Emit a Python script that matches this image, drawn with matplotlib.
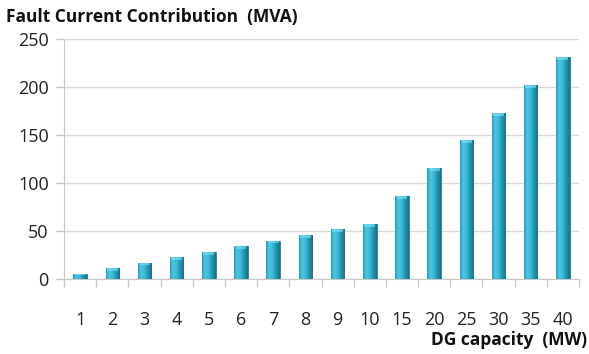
import matplotlib
matplotlib.use("Agg")
import matplotlib.pyplot as plt
import numpy as np
from matplotlib.colors import LinearSegmentedColormap

categories = ["1", "2", "3", "4", "5", "6", "7", "8", "9", "10", "15", "20", "25", "30", "35", "40"]
values = [5.7, 11.4, 17.1, 22.8, 28.5, 34.3, 40.0, 45.8, 51.6, 57.4, 86.5, 115.5, 144.5, 173.3, 202.2, 231.0]
y_ticks = [0, 50, 100, 150, 200, 250]
title = "Fault Current Contribution  (MVA)"
xlabel = "DG capacity  (MW)"

plt.rcParams['font.family'] = ['Open Sans', 'DejaVu Sans']

fig = plt.figure(figsize=(5.89, 3.54), dpi=100)
ax = fig.add_axes([0.1087, 0.2119, 0.983 - 0.1087, 0.8898 - 0.2119])

x = np.arange(len(categories))
bars = ax.bar(x, values, width=0.42, color="#2aa3c2", edgecolor="#1a7f99", linewidth=0.6, zorder=3)

# cylinder-like shading
cmap = LinearSegmentedColormap.from_list("cyl", ["#2a9fbd", "#4cc8e6", "#3bb6d6", "#2391ad", "#1a7088"])
grad = np.linspace(0, 1, 64).reshape(1, -1)
for b in bars:
    x0, w, h = b.get_x(), b.get_width(), b.get_height()
    im = ax.imshow(grad, extent=(x0, x0 + w, 0, h), aspect="auto", cmap=cmap, zorder=3.5, origin="lower")
    im.set_clip_path(b)
    cap = min(3.0, h * 0.3)
    ax.fill_between([x0 + w * 0.1, x0 + w * 0.9], h - cap, h, color="#7fe3f7", alpha=0.6, zorder=4, linewidth=0)

ax.set_xlim(-0.5, len(categories) - 0.5)
ax.set_ylim(0, 250)
ax.set_yticks(y_ticks)
ax.set_xticks(x)
ax.set_xticklabels(categories)
ax.set_xticks(np.arange(-0.5, len(categories)), minor=True)
ax.tick_params(axis="x", which="major", length=0, pad=23, labelsize=13, colors="#222222")
ax.tick_params(axis="x", which="minor", length=6, color="#c8c8c8", width=1)
ax.tick_params(axis="y", length=6, color="#c8c8c8", width=1, labelsize=13, labelcolor="#222222", pad=5)

ax.yaxis.grid(True, color="#d9d9d9", linewidth=1, zorder=0)
ax.set_axisbelow(True)
for s in ["top", "right"]:
    ax.spines[s].set_visible(False)
ax.spines["left"].set_color("#c8c8c8")
ax.spines["bottom"].set_color("#c8c8c8")

fig.text(6 / 589, 1 - 17 / 354, title, fontsize=12.5, fontweight="bold", ha="left", va="center", color="#111111")
fig.text(587 / 589, 1 - 340 / 354, xlabel, fontsize=12.5, fontweight="bold", ha="right", va="center", color="#111111")

fig.savefig("out.png", dpi=100)
